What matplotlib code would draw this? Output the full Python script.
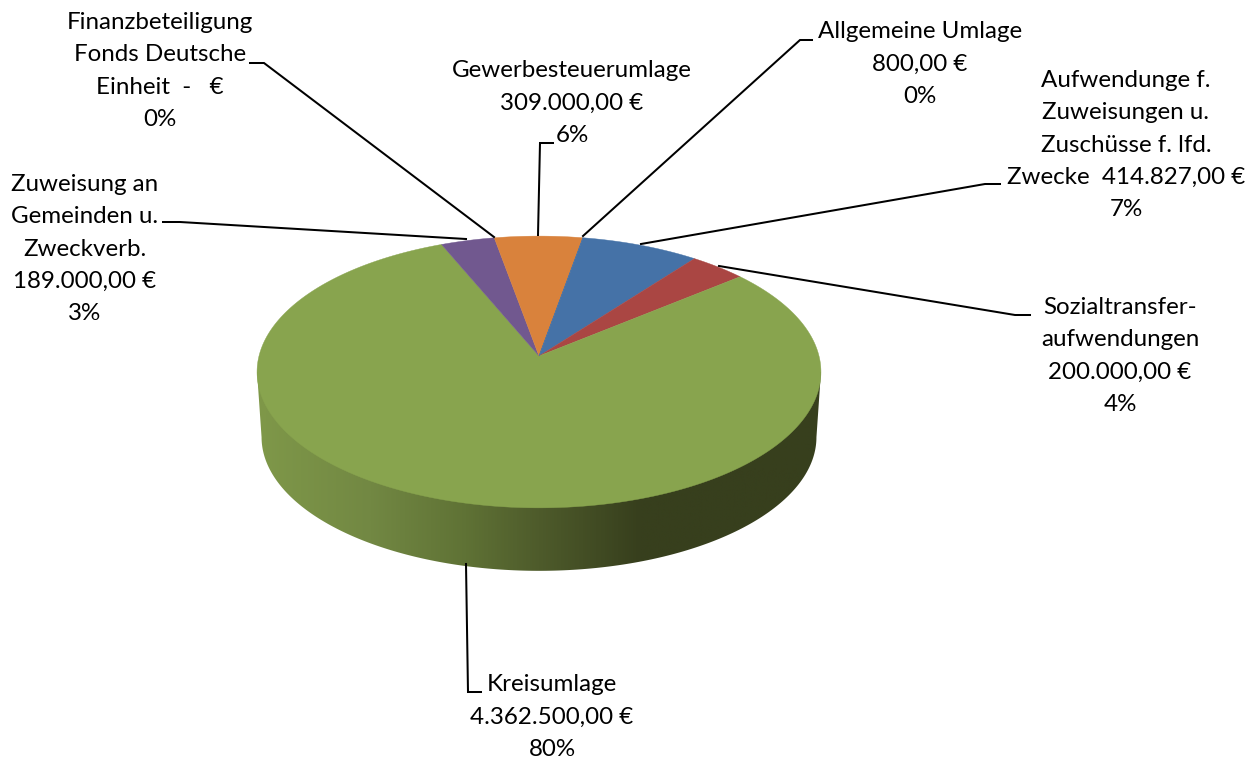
import numpy as np
import matplotlib
matplotlib.use("Agg")
import matplotlib.pyplot as plt
from matplotlib.colors import LinearSegmentedColormap
from matplotlib.patches import Polygon

plt.rcParams["font.family"] = ["Lato", "DejaVu Sans"]

# clockwise from the first slice
categories = [
    "Aufwendunge f. Zuweisungen u. Zuschüsse f. lfd. Zwecke",
    "Sozialtransferaufwendungen",
    "Kreisumlage",
    "Zuweisung an Gemeinden u. Zweckverb.",
    "Finanzbeteiligung Fonds Deutsche Einheit",
    "Gewerbesteuerumlage",
    "Allgemeine Umlage",
]
values = [414827.0, 200000.0, 4362500.0, 189000.0, 0.0, 309000.0, 800.0]
colors = ["#4572a7", "#aa4643", "#88a44e", "#71588f", "#4f81bd", "#d9823c", "#4572a7"]
labels = [
    "Aufwendunge f.\nZuweisungen u.\nZuschüsse f. lfd.\nZwecke  414.827,00 €\n7%",
    "Sozialtransfer-\naufwendungen\n200.000,00 €\n4%",
    "Kreisumlage\n4.362.500,00 €\n80%",
    "Zuweisung an\nGemeinden u.\nZweckverb.\n189.000,00 €\n3%",
    "Finanzbeteiligung\nFonds Deutsche\nEinheit  -   €\n0%",
    "Gewerbesteuerumlage\n309.000,00 €\n6%",
    "Allgemeine Umlage\n800,00 €\n0%",
]

# layout in image pixels
label_pos = [(1126, 145), (1120, 356), (552, 717), (85, 249), (160, 71), (572, 103), (920, 64)]
leaders = [
    [(1000, 184), (985, 184), (641, 244)],
    [(1030, 315), (1015, 315), (719, 266)],
    [(481, 692), (468, 692), (466, 564)],
    [(163, 222), (180, 222), (466, 239)],
    [(250, 63), (264, 63), (494, 237)],
    [(553, 143), (540, 143), (538, 235)],
    [(812, 40), (800, 40), (583, 236)],
]
START_ANGLE = 79.9
CX, CY = 539, 356
RX, RY, TILT = 280, 134, 0.1176
BOTTOM_CY, BOTTOM_SCALE = 421.4, 0.984


def rim(t, cy=CY, scale=1.0):
    # circle seen in perspective, apex of the slices stays at (CX, cy)
    d = 1 + TILT * np.sin(t)
    return CX + scale * RX * np.cos(t) / d, cy - scale * RY * np.sin(t) / d


fig = plt.figure(figsize=(12.55, 7.6), dpi=100)
ax = fig.add_axes([0, 0, 1, 1])
ax.set_xlim(0, 1255)
ax.set_ylim(760, 0)
ax.axis("off")

# side wall of the big slice
edge = np.arcsin(TILT)
t = np.linspace(np.pi + edge, 2 * np.pi - edge, 200)
bx, by = rim(t, BOTTOM_CY, BOTTOM_SCALE)
tx, ty = rim(np.array([2 * np.pi - edge, np.pi + edge]))
wall = Polygon(np.column_stack([np.r_[bx, tx], np.r_[by, ty]]), closed=True,
               facecolor="none", edgecolor="none")
ax.add_patch(wall)
side_cmap = LinearSegmentedColormap.from_list(
    "side",
    [(0.0, "#7f9849"), (0.2, "#728843"), (0.37, "#5f7235"),
     (0.5, "#4e5b2b"), (0.68, "#373f1d"), (1.0, "#373f1d")],
)
grad = ax.imshow(np.linspace(0, 1, 512)[None, :], cmap=side_cmap, aspect="auto",
                 extent=(257, 821, 580, 360), zorder=1)
grad.set_clip_path(wall)
ax.set_xlim(0, 1255)
ax.set_ylim(760, 0)

# top face
fractions = np.array(values) / sum(values)
angle = np.deg2rad(START_ANGLE)
for frac, color in zip(fractions, colors):
    if frac == 0:
        continue
    t = np.linspace(angle, angle - frac * 2 * np.pi, max(int(frac * 720), 2))
    x, y = rim(t)
    ax.fill(np.r_[CX, x], np.r_[CY, y], facecolor=color, edgecolor=color,
            linewidth=0.3, zorder=2)
    angle -= frac * 2 * np.pi

for pts in leaders:
    ax.plot(*zip(*pts), color="black", linewidth=1.45, zorder=3,
            solid_joinstyle="miter")

for text, (x, y) in zip(labels, label_pos):
    ax.text(x, y, text, ha="center", va="center", fontsize=17.4, color="black",
            linespacing=1.67, zorder=4)

fig.savefig("out.png", dpi=100)
